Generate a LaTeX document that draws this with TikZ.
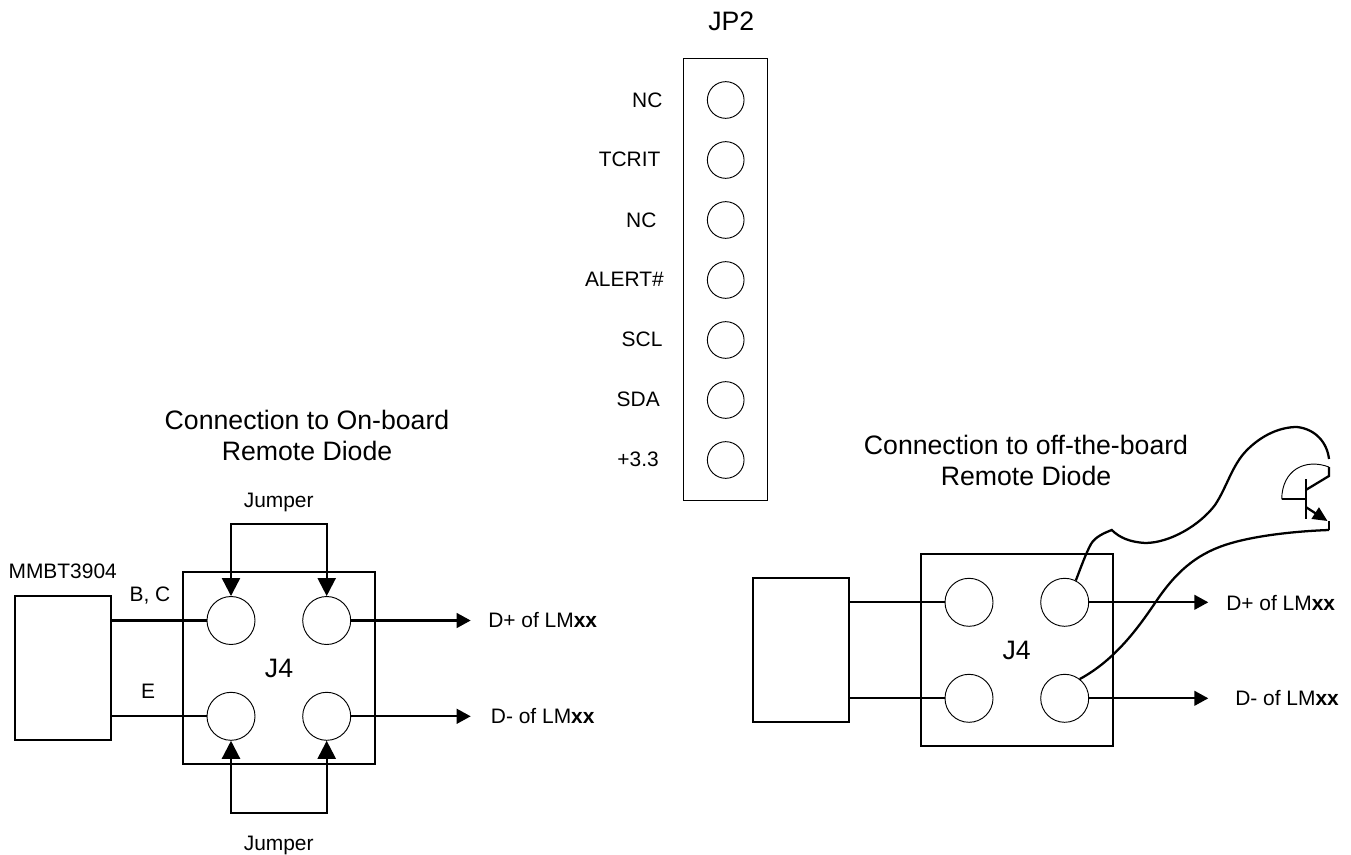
\documentclass[tikz,border=0pt]{standalone}
\usepackage{fontspec}
\setmainfont{Liberation Sans}
\usetikzlibrary{arrows.meta}
\tikzset{pad/.style = {draw, circle, inner sep = 0, line width = 0.7pt, minimum size = 36pt}}
\tikzset{pin/.style = {draw, circle, inner sep = 0, line width = 0.7pt, minimum size = 27.5pt}}
\tikzset{wire/.style = {line width = 1.7pt}}
\tikzset{sbox/.style = {draw, line width = 1.7pt, inner sep = 0, minimum width = 72pt, minimum height = 108pt}}
\tikzset{jbox/.style = {draw, line width = 1.7pt, inner sep = 0, minimum width = 144pt, minimum height = 144pt, bigtxt}}
\tikzset{txt/.style = {inner sep = 0, font = \fontsize{15.7}{18}\selectfont}}
\tikzset{bigtxt/.style = {inner sep = 0, font = \fontsize{20}{23.25}\selectfont, align = center}}
\tikzset{jump/.style = {wire, {Triangle[length = 13.5pt, width = 13.5pt]}-{Triangle[length = 13.5pt, width = 13.5pt]}}}
\tikzset{outw/.style = {wire, -{Triangle[length = 10.5pt, width = 11pt]}}}

\begin{document}
\begin{tikzpicture}[x = 0.75pt, y = -0.75pt]
      \useasboundingbox (0, 0) rectangle (1351, 855);

      % header
      \node [bigtxt] (jptitle) at (731.3, 21) {JP2};
      \node [draw, line width = 0.75pt, inner sep = 0, minimum width = 62.7pt, minimum height = 332.2pt] (jpbox) at (725.5, 279.5) {};

      \foreach \name/\ypos in {p1/100, p2/160, p3/220, p4/280, p5/340, p6/400, p7/460} {
        \node [pin] (\name) at (725.7, \ypos) {};
      }

      \node [txt, anchor = east] (pn1) at (662.7, 100) {NC};
      \node [txt, anchor = east] (pn2) at (660.7, 159) {TCRIT};
      \node [txt, anchor = east] (pn3) at (656.7, 220) {NC};
      \node [txt, anchor = east] (pn4) at (664, 279) {ALERT\#};
      \node [txt, anchor = east] (pn5) at (662.7, 339) {SCL};
      \node [txt, anchor = east] (pn6) at (660, 399) {SDA};
      \node [txt, anchor = east] (pn7) at (659, 459) {+3.3};

      % on-board
      \node [bigtxt] (ltitle) at (307, 435) {Connection to On-board\\Remote Diode};
      \node [sbox] (lchip) at (62.7, 668.3) {};
      \node [jbox] (lj) at (279, 668.3) {J4};
      \node [txt] (lname) at (62.7, 571.7) {MMBT3904};
      \node [txt] (lbc) at (150, 596) {B, C};
      \node [txt] (le) at (148, 691) {E};
      \node [txt] (ljt) at (278.7, 502) {Jumper};
      \node [txt] (ljb) at (278.7, 845) {Jumper};

      \node [pad] (la) at (231, 620.5) {};
      \node [pad] (lb) at (326.7, 620.5) {};
      \node [pad] (lc) at (231, 716.3) {};
      \node [pad] (ld) at (326.7, 716.3) {};

      \node [txt, anchor = west] (lp) at (488, 620) {D+ of LM\textbf{xx}};
      \node [txt, anchor = west] (lm) at (490.7, 716) {D- of LM\textbf{xx}};

      \coordinate (ltop) at (278.7, 524.3);
      \coordinate (lbot) at (278.7, 812.7);
      \coordinate (lpe) at (470.7, 620.5);
      \coordinate (lme) at (470.7, 716.3);

      \draw [wire] (lchip.east |- la.west) -- (la.west);
      \draw [wire] (lchip.east |- lc.west) -- (lc.west);
      \draw [jump] (la.north) |- (ltop) -| (lb.north);
      \draw [jump] (lc.south) |- (lbot) -| (ld.south);
      \draw [outw] (lb.east) -- (lpe);
      \draw [outw] (ld.east) -- (lme);

      % off-the-board
      \node [bigtxt] (rtitle) at (1026, 460) {Connection to off-the-board\\Remote Diode};
      \node [sbox] (rchip) at (801, 650.3) {};
      \node [jbox] (rj) at (1016.7, 650.3) {J4};

      \node [pad] (ra) at (969, 602.3) {};
      \node [pad] (rb) at (1064.7, 602.3) {};
      \node [pad] (rc) at (969, 698.3) {};
      \node [pad] (rd) at (1064.7, 698.3) {};

      \node [txt, anchor = west] (rp) at (1226, 602.7) {D+ of LM\textbf{xx}};
      \node [txt, anchor = west] (rm) at (1235, 698) {D- of LM\textbf{xx}};

      \coordinate (rpe) at (1208.3, 602.3);
      \coordinate (rme) at (1208.3, 698.3);

      \draw [wire] (rchip.east |- ra.west) -- (ra.west);
      \draw [wire] (rchip.east |- rc.west) -- (rc.west);
      \draw [outw] (rb.east) -- (rpe);
      \draw [outw] (rd.east) -- (rme);

      % transistor
      \coordinate (qbase) at (1281.7, 499.3);
      \coordinate (qmid) at (1305.7, 499.3);
      \coordinate (qup) at (1305.7, 479);
      \coordinate (qdn) at (1305.7, 519);
      \coordinate (qcol) at (1305.7, 490);
      \coordinate (qcolb) at (1329, 476);
      \coordinate (qcolt) at (1329, 467);
      \coordinate (qem) at (1305.7, 507);
      \coordinate (qemt) at (1327.5, 521);
      \coordinate (qems) at (1329, 521);
      \coordinate (qend) at (1329, 530);
      \coordinate (qtop) at (1329, 459);
      \coordinate (qkink) at (1111.7, 530);

      \draw [wire] (qbase) -- (qmid);
      \draw [wire] (qup) -- (qdn);
      \draw [wire] (qcol) -- (qcolb) -- (qcolt);
      \draw [wire, -{Triangle[length = 11pt, width = 10pt]}] (qem) -- (qemt);
      \draw [wire] (qems) -- (qend);
      \draw [line width = 0.7pt] (qcolt) .. controls (1305, 458) and (1282, 470) .. (qbase);

      \draw [wire] (rb.63) .. controls (1081, 567) and (1086, 553) .. (1091, 544) .. controls (1095, 537) and (1104, 533) .. (qkink)
        .. controls (1120, 538) and (1130, 542) .. (1145, 543) .. controls (1170, 543) and (1200, 525) .. (1215, 505)
        .. controls (1227, 487) and (1232, 465) .. (1247, 450) .. controls (1262, 435) and (1280, 427) .. (1297, 427)
        .. controls (1315, 429) and (1327, 442) .. (qtop);
      \draw [wire] (rd.52) .. controls (1115, 660) and (1138, 628) .. (1155, 603) .. controls (1175, 573) and (1195, 555) .. (1225, 545)
        .. controls (1255, 535) and (1300, 531) .. (qend);
\end{tikzpicture}
\end{document}
